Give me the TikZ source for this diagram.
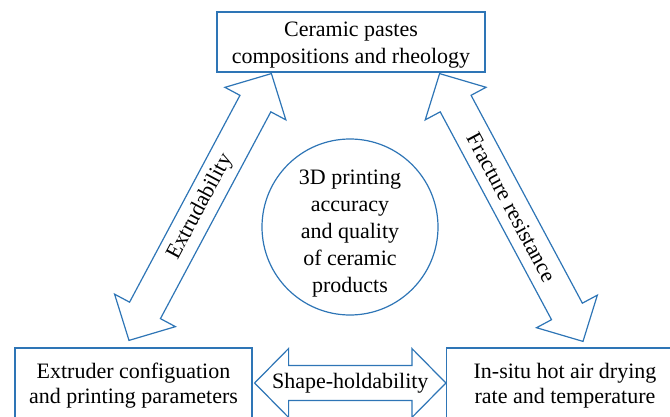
\documentclass[tikz,border=0pt]{standalone}
\usepackage{fontspec}
\setmainfont{Liberation Serif}
\usetikzlibrary{calc,positioning}
\definecolor{lineblue}{RGB}{46,117,182}

% double-headed link: name, tail point, head point, label
\newcommand{\linkarrow}[4]{%
  \path let \p1=($(#3)-(#2)$), \n1={atan2(\y1,\x1)}, \n2={veclen(\x1,\y1)} in
    \pgfextra{\xdef\linkangle{\n1}\xdef\linklen{\n2}};
  \begin{scope}[shift={(#2)}, rotate=\linkangle]
    \draw[linkline] (0,0) -- (34,34.5) -- (34,17.5) -- (\linklen-34,17.5)
      -- (\linklen-34,34.5) -- (\linklen,0) -- (\linklen-34,-34.5)
      -- (\linklen-34,-17.5) -- (34,-17.5) -- (34,-34.5) -- cycle;
    \node[transform shape] (#1) at (\linklen/2,0) {#4};
  \end{scope}}
% invisible strut that lowers a block of text in its node
\newcommand{\lowstrut}[1]{\rule{0pt}{#1}}

\begin{document}
\begin{tikzpicture}[x=1pt, y=1pt,
  every node/.style={font=\fontsize{22}{27}\selectfont, align=center},
  factorbox/.style={draw=lineblue, line width=1.2pt, fill=white,
    font=\fontsize{22}{25}\selectfont,
    minimum width=237, minimum height=72, inner sep=0pt},
  linkline/.style={draw=lineblue, line width=1.2pt, fill=white, line join=miter}]

\useasboundingbox (0,0) rectangle (670,416);

% ----------------------------------------------------
% 1. Factors
% ----------------------------------------------------
\node[factorbox, font=\fontsize{22}{27}\selectfont,
  minimum width=268, minimum height=60] (paste) at (351,374)
  {\lowstrut{20pt}Ceramic pastes\\compositions and rheology};
\node[factorbox] (extruder) at (133.5,32)
  {\lowstrut{18pt}Extruder configuation\\and printing parameters};
\node[factorbox] (drying) at (565,32)
  {\lowstrut{18pt}In-situ hot air drying\\rate and temperature};

% ----------------------------------------------------
% 2. Centre
% ----------------------------------------------------
\node[draw=lineblue, line width=1.2pt, circle, minimum size=176, inner sep=0pt]
  (quality) at (350,189)
  {\lowstrut{27pt}3D printing\\accuracy\\and quality\\of ceramic\\products};

% ----------------------------------------------------
% 3. Interactions
% ----------------------------------------------------
\coordinate (pasteL) at ([xshift=55,yshift=-1]paste.south west);
\coordinate (pasteR) at ([xshift=-46,yshift=-1]paste.south east);
\coordinate (extruderT) at ([xshift=-4.5,yshift=7]extruder.north);
\coordinate (dryingT) at ([xshift=18,yshift=6]drying.north);
\coordinate (extruderR) at ([xshift=2,yshift=1]extruder.east);
\coordinate (dryingL) at ([yshift=1]drying.west);

\linkarrow{extrud}{extruderT}{pasteL}{Extrudability}
\linkarrow{fracture}{pasteR}{dryingT}{Fracture resistance}
\linkarrow{holdab}{extruderR}{dryingL}{Shape-holdability}

\end{tikzpicture}
\end{document}
